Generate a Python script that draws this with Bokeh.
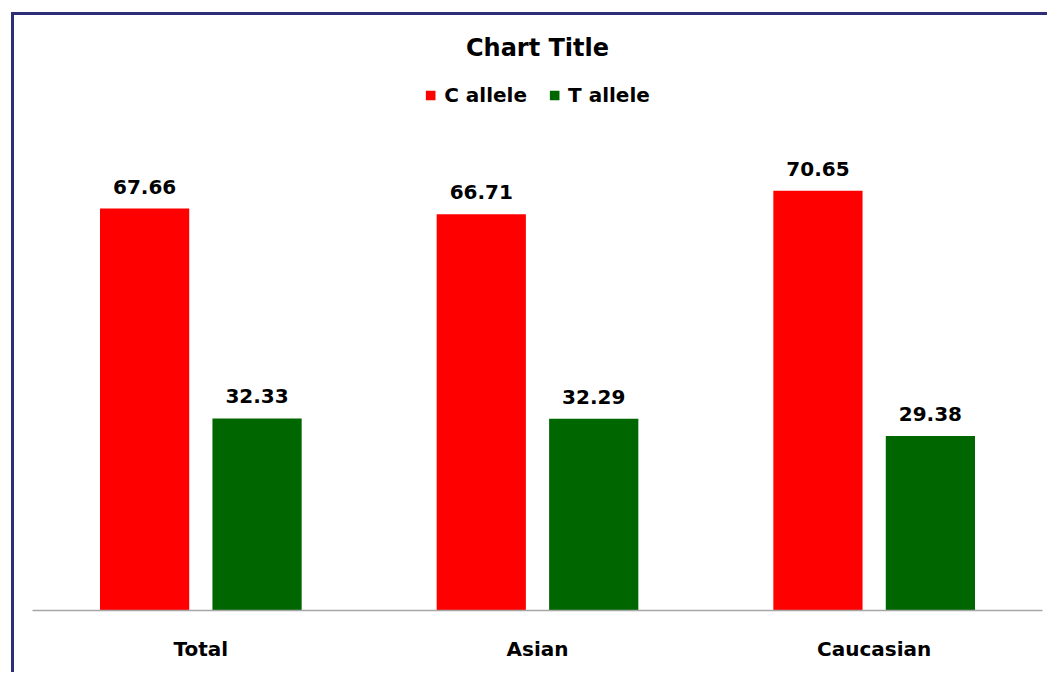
from bokeh.plotting import figure
from bokeh.models import ColumnDataSource, Range1d, FactorRange, Legend, LegendItem
from bokeh.transform import dodge
from bokeh.core.properties import value
from bokeh.embed import file_html
from bokeh.resources import INLINE

categories = ["Total", "Asian", "Caucasian"]
c_allele = [67.66, 66.71, 70.65]
t_allele = [32.33, 32.29, 29.38]
series_names = ["C allele", "T allele"]

FONT = "DejaVu Sans"
RED = "#FF0000"
GREEN = "#006600"
BORDER = "#2E2E78"

src = ColumnDataSource(dict(
    cat=categories,
    c=c_allele,
    t=t_allele,
    c_lab=[f"{v:.2f}" for v in c_allele],
    t_lab=[f"{v:.2f}" for v in t_allele],
))

p = figure(
    x_range=FactorRange(*categories),
    y_range=Range1d(0, 90.9),
    width=1036, height=660,
    output_backend="svg", toolbar_location=None,
    min_border_left=18, min_border_right=8,
    min_border_top=55, min_border_bottom=65,
)
p.margin = (12, 0, 0, 11)
p.styles = {"border-top": f"3px solid {BORDER}", "border-left": f"3px solid {BORDER}"}

p.title.text = "Chart Title"
p.title.align = "center"
p.title.text_font = FONT
p.title.text_font_size = "24px"
p.title.text_font_style = "bold"
p.title.text_color = "black"
p.title.standoff = 17

off = 0.167
bw = 0.265
r1 = p.vbar(x=dodge("cat", -off, range=p.x_range), top="c", width=bw, source=src,
            fill_color=RED, line_color=None)
r2 = p.vbar(x=dodge("cat", off, range=p.x_range), top="t", width=bw, source=src,
            fill_color=GREEN, line_color=None)

for col, lab, o in (("c", "c_lab", -off), ("t", "t_lab", off)):
    p.text(x=dodge("cat", o, range=p.x_range), y=col, text=lab, source=src,
           text_font=value(FONT), text_font_size="20px", text_font_style="bold",
           text_align="center", text_baseline="alphabetic", y_offset=-22,
           text_color="black")

legend = Legend(items=[LegendItem(label=series_names[0], renderers=[r1]),
                       LegendItem(label=series_names[1], renderers=[r2])],
                location="top_center", orientation="horizontal")
legend.glyph_height = 12
legend.glyph_width = 12
legend.label_height = 20
legend.label_standoff = 8
legend.spacing = 21
legend.padding = 0
legend.margin = 13
legend.border_line_color = None
legend.background_fill_alpha = 0
legend.label_text_font = FONT
legend.label_text_font_size = "20px"
legend.label_text_font_style = "bold"
legend.label_text_color = "black"
p.add_layout(legend)

p.yaxis.visible = False
p.xgrid.visible = False
p.ygrid.visible = False
p.outline_line_color = None
p.xaxis.axis_line_color = "#A6A6A6"
p.xaxis.axis_line_width = 1.5
p.xaxis.major_tick_line_color = None
p.xaxis.minor_tick_line_color = None
p.xaxis.major_tick_out = 0
p.xaxis.major_tick_in = 0
p.xaxis.major_label_standoff = 26
p.xaxis.major_label_text_font = FONT
p.xaxis.major_label_text_font_size = "20px"
p.xaxis.major_label_text_font_style = "bold"
p.xaxis.major_label_text_color = "black"

open("out.html", "w").write(file_html(p, INLINE))
